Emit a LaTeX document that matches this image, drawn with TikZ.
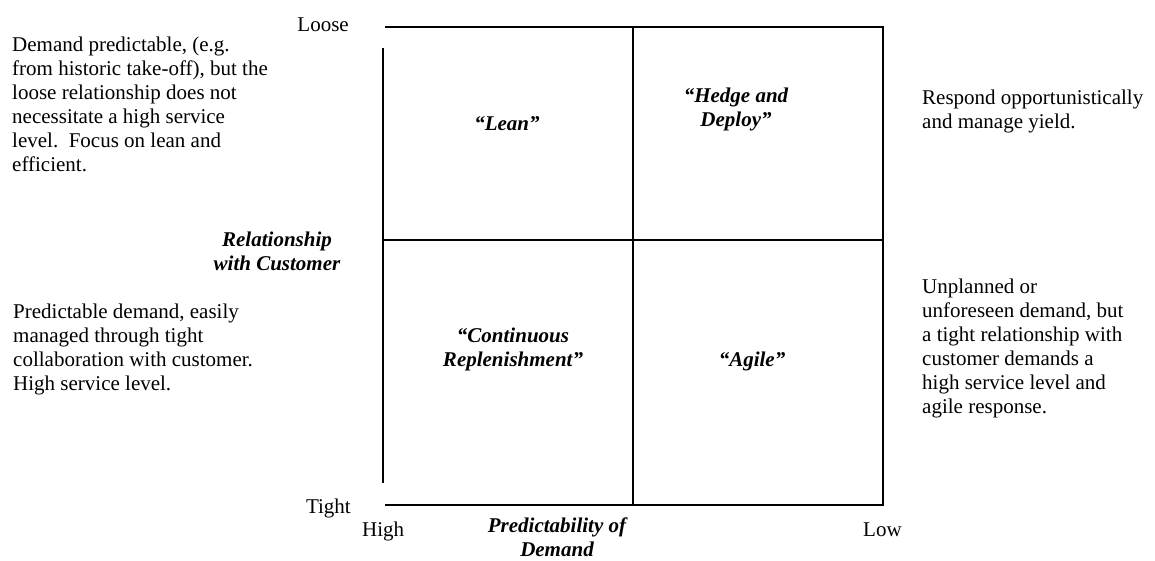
\documentclass[tikz,border=0pt]{standalone}
\usepackage{fontspec}
\setmainfont{Liberation Serif}
\begin{document}
\begin{tikzpicture}[x=1pt,y=-1pt,
  txt/.style={inner sep=0pt,font=\fontsize{21}{24}\selectfont},
  lbl/.style={inner sep=0pt,font=\fontsize{21}{24}\selectfont\bfseries\itshape},
  axisline/.style={line width=1.8pt}]
\useasboundingbox (0,0) rectangle (1155,561);
% grid corners
\coordinate (tl) at (385,27);
\coordinate (tr) at (883,27);
\coordinate (bl) at (385,505);
\coordinate (br) at (883,505);
\coordinate (tm) at (633,27);
\coordinate (bm) at (633,505);
\coordinate (ml) at (384,240);
\coordinate (mr) at (883,240);
\coordinate (vs) at (383,48);
\coordinate (ve) at (383,483);
\draw[axisline] (tl) -- (tr) -- (br) -- (bl);
\draw[axisline] (vs) -- (ve);
\draw[axisline] (tm) -- (bm);
\draw[axisline] (ml) -- (mr);
% axis labels
\node[txt,anchor=base east] (loose) at (349,32) {Loose};
\node[txt,anchor=base east] (tight) at (351,513) {Tight};
\node[txt,anchor=base west] (high) at (362,536) {High};
\node[txt,anchor=base west] (low) at (863,536) {Low};
\node[lbl,align=center,anchor=base] (rel) at (277,270) {Relationship\\with Customer};
\node[lbl,align=center,anchor=base] (pred) at (557,556) {Predictability of\\Demand};
% quadrants
\node[lbl,anchor=base] (lean) at (507,131) {“Lean”};
\node[lbl,align=center,anchor=base] (hedge) at (736,127) {“Hedge and\\Deploy”};
\node[lbl,align=center,anchor=base] (cont) at (513,366) {“Continuous\\Replenishment”};
\node[lbl,anchor=base] (agile) at (752,366) {“Agile”};
% side texts (base = baseline of last line)
\node[txt,align=left,anchor=base west] (d1) at (12,172) {Demand predictable, (e.g.\\from historic take-off), but the\\loose relationship does not\\necessitate a high service\\level.\ \ Focus on lean and\\efficient.};
\node[txt,align=left,anchor=base west] (d2) at (13,390) {Predictable demand, easily\\managed through tight\\collaboration with customer.\\High service level.};
\node[txt,align=left,anchor=base west] (d3) at (922,129) {Respond opportunistically\\and manage yield.};
\node[txt,align=left,anchor=base west] (d4) at (922,413) {Unplanned or\\unforeseen demand, but\\a tight relationship with\\customer demands a\\high service level and\\agile response.};
\end{tikzpicture}
\end{document}
